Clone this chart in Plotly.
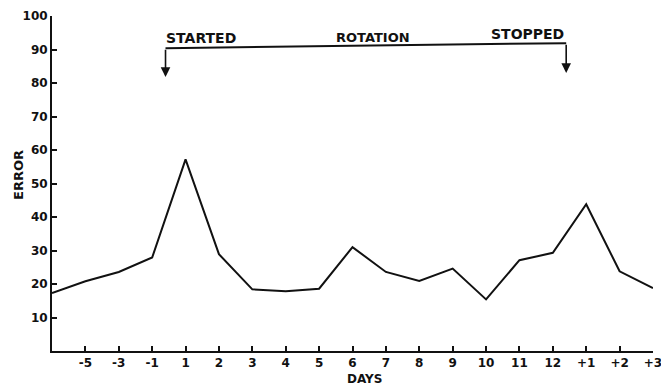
import plotly.graph_objects as go

# Day labels along the x axis (first point sits one step before day -5)
day_labels = ["-5", "-3", "-1", "1", "2", "3", "4", "5", "6", "7", "8",
              "9", "10", "11", "12", "+1", "+2", "+3"]
day_positions = list(range(1, len(day_labels) + 1))

# Error per observation, starting with the unlabeled point at the left edge
point_positions = list(range(0, len(day_labels) + 1))
error_values = [17.3, 20.8, 23.6, 27.9, 57.2, 28.9, 18.4, 17.8, 18.6,
                31.0, 23.6, 20.9, 24.6, 15.4, 27.1, 29.3, 43.8, 23.8, 18.8]

y_ticks = [10, 20, 30, 40, 50, 60, 70, 80, 90, 100]

# Rotation bracket: starts between day -1 and 1, stops between day 12 and +1
rot_start, rot_stop = 3.4, 15.4
bracket_left_y, bracket_right_y = 90.4, 91.9
arrow_tip_left, arrow_tip_right = 81.8, 83.0

FONT = "DejaVu Sans"
ink = "#111111"

# Plot-area geometry in pixels
W, H = 661, 385
L, R, T, B = 52, 8, 16, 34
plot_w, plot_h = W - L - R, H - T - B


def font(size):
    return dict(family=FONT, size=size, color=ink, weight="bold")


fig = go.Figure()
fig.add_trace(go.Scatter(
    x=point_positions, y=error_values, mode="lines",
    line=dict(color=ink, width=2), hoverinfo="skip", showlegend=False,
))

fig.add_shape(type="line", xref="x", yref="y",
              x0=rot_start, y0=bracket_left_y, x1=rot_stop, y1=bracket_right_y,
              line=dict(color=ink, width=2))

for xpos, ytop, ytip in [(rot_start, bracket_left_y, arrow_tip_left),
                         (rot_stop, bracket_right_y, arrow_tip_right)]:
    fig.add_annotation(x=xpos, y=ytip, ax=xpos, ay=ytop, xref="x", yref="y",
                       axref="x", ayref="y", showarrow=True, arrowhead=2,
                       arrowsize=1.2, arrowwidth=1.6, arrowcolor=ink, text="")

fig.add_annotation(x=rot_start - 0.05, y=93.4, xref="x", yref="y", text="STARTED",
                   showarrow=False, xanchor="left", yanchor="middle", font=font(14))
fig.add_annotation(x=9.6, y=93.7, xref="x", yref="y", text="ROTATION",
                   showarrow=False, xanchor="center", yanchor="middle", font=font(13))
fig.add_annotation(x=rot_stop, y=94.6, xref="x", yref="y", text="STOPPED",
                   showarrow=False, xanchor="right", yanchor="middle", font=font(14))

# Axis titles placed by pixel position
fig.add_annotation(x=-(L - 18) / plot_w, y=(H - B - 175) / plot_h,
                   xref="paper", yref="paper", text="ERROR", showarrow=False,
                   textangle=-90, xanchor="center", yanchor="middle", font=font(13))
fig.add_annotation(x=(364 - L) / plot_w, y=-(379 - (H - B)) / plot_h,
                   xref="paper", yref="paper", text="DAYS", showarrow=False,
                   xanchor="center", yanchor="middle", font=font(12))

fig.update_layout(
    width=W, height=H,
    margin=dict(l=L, r=R, t=T, b=B, autoexpand=False),
    paper_bgcolor="white", plot_bgcolor="white",
    font=font(12),
)

axis_style = dict(
    showline=True, linecolor=ink, linewidth=2, ticks="inside", ticklen=5,
    tickcolor=ink, tickwidth=1.5, showgrid=False, zeroline=False,
    tickfont=font(12), ticklabeloverflow="allow", automargin=False,
)
fig.update_xaxes(range=[0, 18], tickvals=day_positions, ticktext=day_labels, **axis_style)
fig.update_yaxes(range=[0, 100], tickvals=y_ticks, **axis_style)

fig.write_html("out.html")
